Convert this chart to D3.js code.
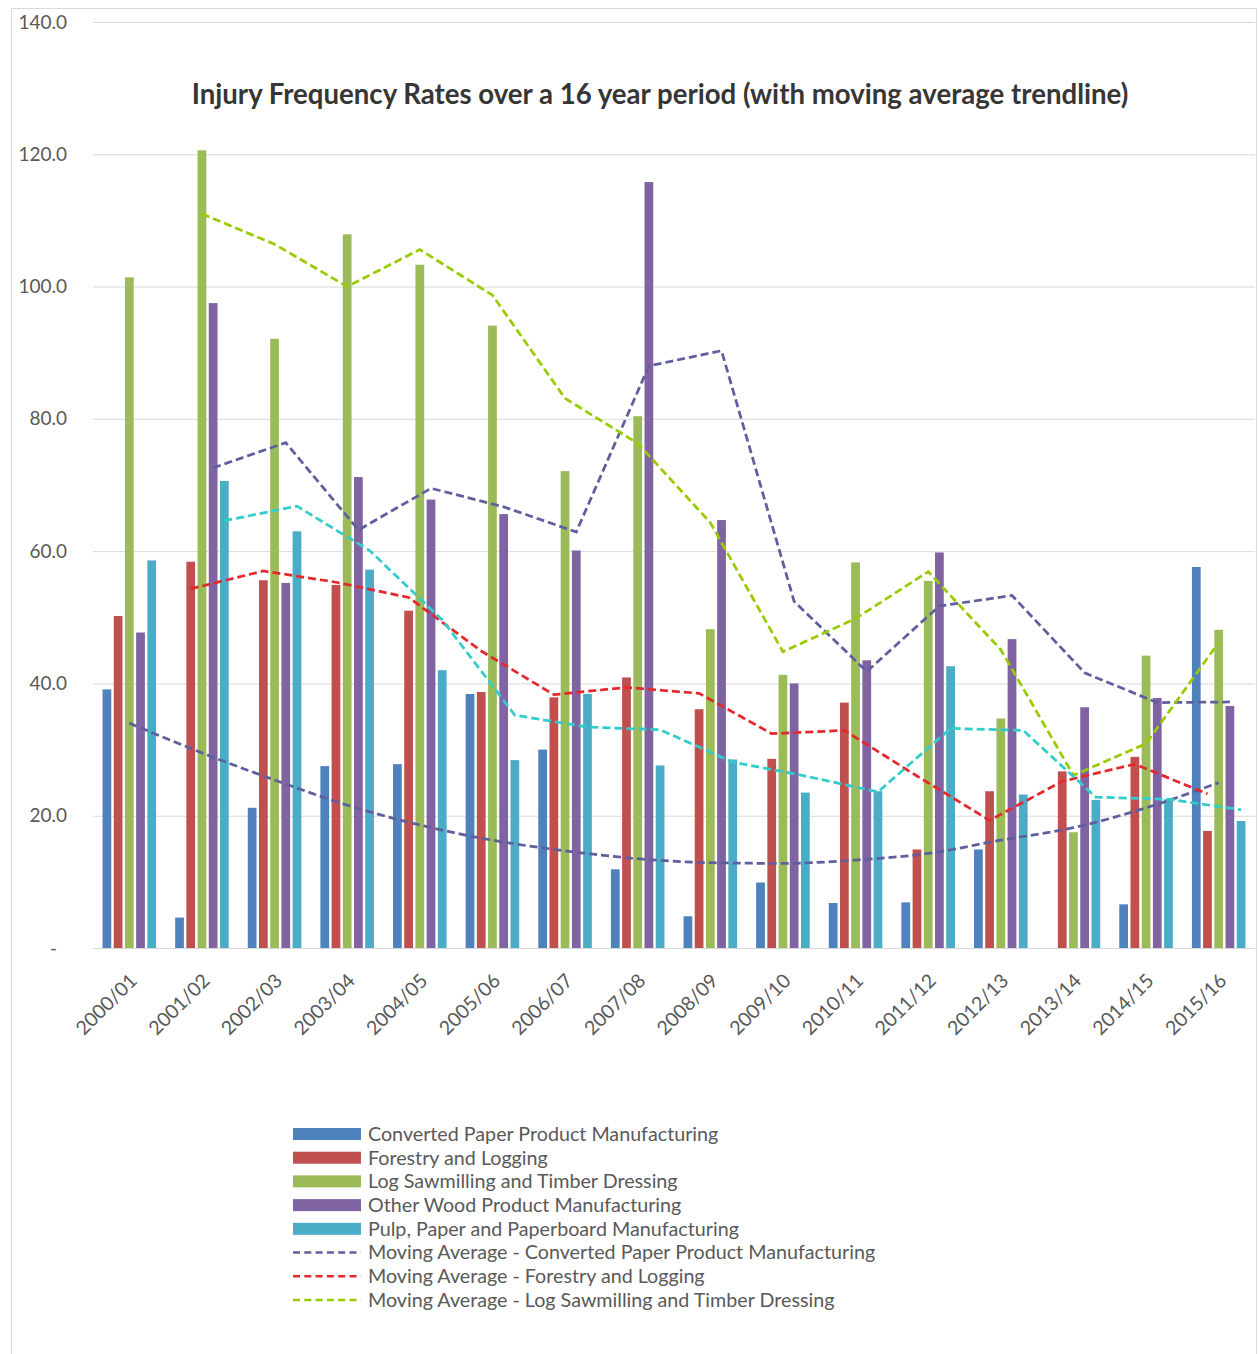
<!DOCTYPE html>
<html>
<head>
<meta charset="utf-8">
<script src="https://cdn.jsdelivr.net/npm/d3@7"></script>
<style>
  body { margin: 0; background: #fff; }
  text { font-family: Lato, "Open Sans", sans-serif; }
</style>
</head>
<body>
<div id="chart"></div>
<script>
// Categories and series values
const years = ["2000/01", "2001/02", "2002/03", "2003/04", "2004/05", "2005/06", "2006/07", "2007/08",
  "2008/09", "2009/10", "2010/11", "2011/12", "2012/13", "2013/14", "2014/15", "2015/16"];

const seriesNames = ["Converted Paper Product Manufacturing", "Forestry and Logging",
  "Log Sawmilling and Timber Dressing", "Other Wood Product Manufacturing",
  "Pulp, Paper and Paperboard Manufacturing"];

const convertedPaper = [39.1, 4.6, 21.2, 27.5, 27.8, 38.4, 30.0, 11.9, 4.8, 9.9, 6.8, 6.9, 14.9, null, 6.6, 57.6];
const forestry = [50.2, 58.4, 55.6, 54.9, 51.0, 38.7, 37.9, 40.9, 36.1, 28.6, 37.1, 14.9, 23.7, 26.7, 28.9, 17.7];
const logSawmilling = [101.4, 120.6, 92.1, 107.9, 103.3, 94.1, 72.1, 80.4, 48.2, 41.3, 58.3, 55.5, 34.7, 17.5, 44.2, 48.1];
const otherWood = [47.7, 97.5, 55.2, 71.2, 67.8, 65.6, 60.1, 115.8, 64.7, 40.0, 43.5, 59.8, 46.7, 36.4, 37.8, 36.6];
const pulpPaper = [58.6, 70.6, 63.0, 57.2, 42.0, 28.4, 38.4, 27.6, 28.5, 23.5, 23.7, 42.6, 23.2, 22.4, 22.5, 19.2];

// Trendlines as drawn in the picture
const trendConverted = [34.0, 29.5, 25.4, 21.6, 18.6, 16.3, 14.7, 13.5, 12.9, 12.8, 13.3, 14.3, 16.3, 18.2, 21.2, 25.0];
const maOtherWood = [null, 72.6, 76.4, 63.2, 69.5, 66.7, 62.9, 88.0, 90.3, 52.4, 41.8, 51.7, 53.3, 41.6, 37.1, 37.2];
const maForestry = [null, 54.3, 57.0, 55.3, 53.0, 44.9, 38.3, 39.4, 38.5, 32.4, 32.9, 26.0, 19.3, 25.2, 27.8, 23.3];
const maLogSawmilling = [null, 111.0, 106.4, 100.0, 105.6, 98.7, 83.1, 76.3, 64.3, 44.8, 49.8, 56.9, 45.1, 26.1, 30.9, 46.2];
const maPulpPaper = [null, 64.6, 66.8, 60.1, 49.6, 35.2, 33.4, 33.0, 28.1, 26.0, 23.6, 33.2, 32.9, 22.8, 22.5, 20.9];

const yTicks = [0, 20, 40, 60, 80, 100, 120, 140];

const legendNames = seriesNames.concat([
  "Moving Average - Converted Paper Product Manufacturing",
  "Moving Average - Forestry and Logging",
  "Moving Average - Log Sawmilling and Timber Dressing"]);

const barColors = ["#4f81bd", "#c0504d", "#9bbb59", "#8064a2", "#4bacc6"];
const slate = "#5f5f9e", redDash = "#e4292e", limeDash = "#99cc00", cyanDash = "#33cccc";

const width = 1259, height = 1354;
const plot = { left: 93, right: 1255, top: 22, bottom: 948 };

const svg = d3.select("#chart").append("svg")
  .attr("width", width)
  .attr("height", height);

// Chart border
svg.append("rect")
  .attr("x", 11.5).attr("y", 8.5)
  .attr("width", 1245).attr("height", 1360)
  .attr("fill", "#fff")
  .attr("stroke", "#d9d9d9");

const x0 = d3.scaleBand().domain(years).range([plot.left, plot.right]);
const x1 = d3.scaleBand().domain(d3.range(5)).range([0, x0.bandwidth()])
  .paddingInner(0.22).paddingOuter(0.85);
const y = d3.scaleLinear().domain([0, 140]).range([plot.bottom, plot.top]);

// Y axis with gridlines
svg.append("g")
  .attr("transform", `translate(${plot.left},0)`)
  .call(d3.axisLeft(y)
    .tickValues(yTicks)
    .tickSize(-(plot.right - plot.left))
    .tickPadding(26)
    .tickFormat(d => d === 0 ? "-" : d3.format(".1f")(d)))
  .call(g => g.select(".domain").remove())
  .call(g => g.selectAll(".tick line").attr("stroke", "#d9d9d9"))
  .call(g => g.selectAll(".tick text")
    .attr("fill", "#595959")
    .style("font-size", "19px"))
  .call(g => g.selectAll(".tick").filter(d => d === 0).select("text").attr("dx", -10));

// Bars
const seriesValues = [convertedPaper, forestry, logSawmilling, otherWood, pulpPaper];
seriesValues.forEach((vals, s) => {
  svg.append("g")
    .selectAll("rect")
    .data(vals.map((v, i) => ({ year: years[i], v })).filter(d => d.v != null))
    .join("rect")
    .attr("x", d => x0(d.year) + x1(s))
    .attr("y", d => y(d.v))
    .attr("width", x1.bandwidth())
    .attr("height", d => y(0) - y(d.v))
    .attr("fill", barColors[s]);
});

// Category axis line
svg.append("line")
  .attr("x1", plot.left).attr("x2", plot.right)
  .attr("y1", y(0) + 0.5).attr("y2", y(0) + 0.5)
  .attr("stroke", "#d9d9d9");

// Trendlines
const xCenter = i => x0(years[i]) + x0.bandwidth() / 2;
const xSeries = s => i => x0(years[i]) + x1(s) + x1.bandwidth() / 2;

function drawTrend(vals, xf, color, curve) {
  const line = d3.line()
    .defined(d => d.v != null)
    .x(d => xf(d.i))
    .y(d => y(d.v))
    .curve(curve || d3.curveLinear);
  svg.append("path")
    .datum(vals.map((v, i) => ({ i, v })))
    .attr("fill", "none")
    .attr("stroke", color)
    .attr("stroke-width", 2.75)
    .attr("stroke-dasharray", "8,4")
    .attr("d", line);
}

drawTrend(trendConverted, xCenter, slate, d3.curveMonotoneX);
drawTrend(maOtherWood, xSeries(3), slate);
drawTrend(maForestry, xSeries(1), redDash);
drawTrend(maLogSawmilling, xSeries(2), limeDash);
drawTrend(maPulpPaper, xSeries(4), cyanDash);

// X labels
svg.append("g")
  .selectAll("text")
  .data(years)
  .join("text")
  .attr("transform", d => `translate(${x0(d) + x0.bandwidth() / 2 + 9},${plot.bottom + 34}) rotate(-45)`)
  .attr("text-anchor", "end")
  .attr("fill", "#595959")
  .style("font-size", "19.5px")
  .text(d => d);

// Title
svg.append("text")
  .attr("x", 660)
  .attr("y", 104)
  .attr("text-anchor", "middle")
  .attr("fill", "#363636")
  .style("font-size", "27.6px")
  .style("font-weight", "bold")
  .text("Injury Frequency Rates over a 16 year period (with moving average trendline)");

// Legend
const legendColors = barColors.concat([slate, redDash, limeDash]);
const legend = svg.append("g").attr("transform", "translate(293,1134)");
const item = legend.selectAll("g")
  .data(legendNames)
  .join("g")
  .attr("transform", (d, i) => `translate(0,${i * 23.7})`);

item.filter((d, i) => i < 5).append("rect")
  .attr("x", 0).attr("y", -6)
  .attr("width", 68).attr("height", 12)
  .attr("fill", (d, i) => legendColors[i]);

item.filter((d, i) => i >= 5).append("line")
  .attr("x1", 0).attr("x2", 68)
  .attr("y1", 0).attr("y2", 0)
  .attr("stroke", (d, i) => legendColors[i + 5])
  .attr("stroke-width", 2.5)
  .attr("stroke-dasharray", "7,4.3");

item.append("text")
  .attr("x", 75)
  .attr("y", 0)
  .attr("dy", "0.35em")
  .attr("fill", "#595959")
  .style("font-size", "19.7px")
  .text(d => d);
</script>
</body>
</html>
